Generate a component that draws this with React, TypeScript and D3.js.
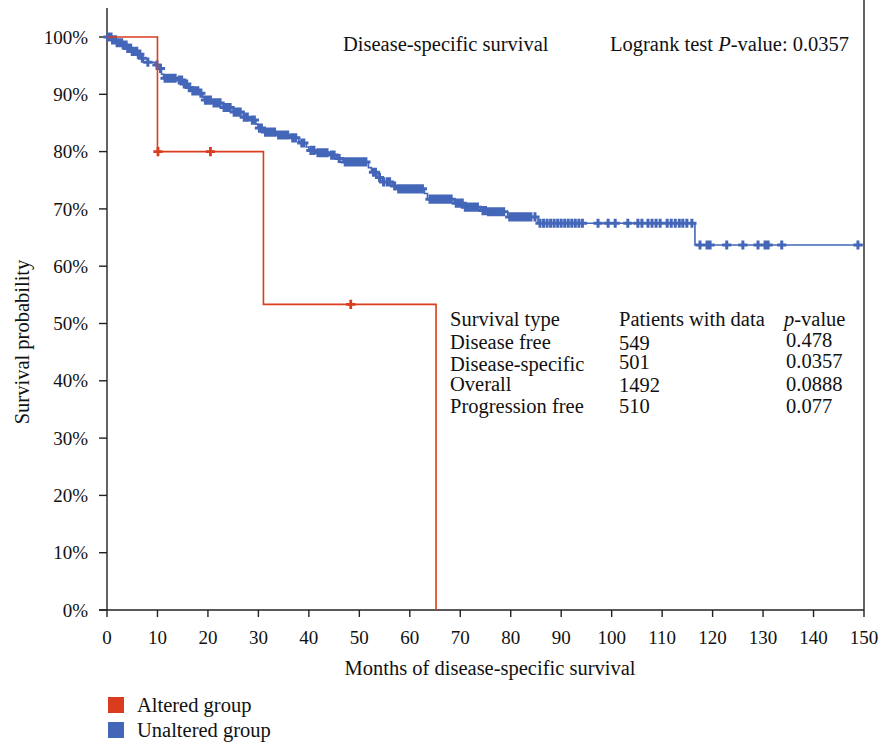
import React from "react";
import * as d3 from "d3";

// Kaplan–Meier step points: [month, survival probability after the step]
const alteredSteps: [number, number][] = [
  [0, 1.0],
  [10.0, 0.8],
  [31.0, 0.5333],
  [65.2, 0.0],
];
const alteredCensored: number[] = [10.1, 20.5, 48.3];

const unalteredSteps: [number, number][] = [
  [0, 1.0], [1.0, 0.995], [2.0, 0.99], [3.0, 0.986], [4.0, 0.98], [5.0, 0.975],
  [6.0, 0.97], [6.8, 0.963], [7.2, 0.956], [9.5, 0.951], [10.3, 0.945], [10.8, 0.935],
  [11.2, 0.928], [14.0, 0.925], [15.0, 0.918], [16.0, 0.912], [16.6, 0.906], [18.2, 0.902],
  [19.0, 0.895], [19.3, 0.89], [21.0, 0.885], [23.0, 0.877], [25.0, 0.869], [27.0, 0.86],
  [28.4, 0.855], [29.5, 0.848], [29.9, 0.841], [31.0, 0.834], [33.8, 0.829], [36.4, 0.824],
  [38.0, 0.818], [38.4, 0.815], [39.5, 0.808], [40.0, 0.802], [41.5, 0.798], [44.0, 0.794],
  [45.5, 0.788], [46.8, 0.782], [51.8, 0.772], [52.4, 0.764], [53.5, 0.755], [54.5, 0.747],
  [56.5, 0.74], [57.5, 0.735], [62.9, 0.727], [63.5, 0.717], [68.8, 0.71], [70.6, 0.703],
  [74.0, 0.697], [75.2, 0.695], [79.4, 0.686], [85.4, 0.675], [116.5, 0.637], [150, 0.637],
];
const unalteredCensored: number[] = [
  0.2, 0.5, 0.8, 1.1, 1.4, 1.7, 2.0, 2.3, 2.6, 2.9, 3.2, 3.5, 3.8, 4.1, 4.4, 4.7, 5.0, 5.3,
  5.6, 5.9, 6.2, 6.5, 7.0, 8.1, 9.9, 10.6, 11.5, 12.0, 12.5, 13.0, 13.5, 14.3, 14.8, 15.3,
  15.8, 16.3, 17.0, 17.5, 18.0, 18.6, 19.5, 20.0, 20.5, 21.2, 21.8, 22.4, 23.2, 23.8, 24.4,
  25.2, 25.8, 26.4, 27.2, 27.8, 28.8, 29.2, 30.2, 30.6, 31.4, 32.0, 32.6, 33.2, 34.0, 34.6,
  35.2, 35.8, 36.8, 37.4, 38.6, 39.0, 40.4, 41.0, 41.8, 42.4, 43.0, 43.6, 44.5, 45.0, 46.0,
  47.2, 47.8, 48.4, 49.0, 49.6, 50.2, 50.8, 51.3, 52.8, 53.2, 54.0, 54.8, 55.5, 56.0, 57.0,
  57.8, 58.4, 59.0, 59.6, 60.2, 60.8, 61.4, 62.0, 62.5, 64.0, 64.6, 65.2, 65.8, 66.4, 67.0,
  67.6, 68.2, 69.2, 69.8, 70.4, 71.0, 71.6, 72.2, 72.8, 73.4, 74.5, 75.0, 75.6, 76.2, 76.8,
  77.4, 78.0, 78.6, 79.8, 80.4, 81.0, 81.6, 82.2, 82.8, 83.4, 84.0, 84.8, 85.8, 86.5, 87.2,
  87.9, 88.6, 89.3, 90.0, 90.7, 91.4, 92.1, 92.8, 93.5, 94.2, 97.3, 99.3, 100.7, 103.2,
  105.2, 106.0, 107.2, 108.0, 108.8, 109.6, 111.0, 111.8, 112.6, 113.4, 114.1, 114.9, 115.9,
  117.5, 118.9, 119.5, 122.8, 126.0, 129.0, 130.4, 131.0, 133.7, 148.8,
];

const xTicks: number[] = d3.range(0, 151, 10);
const yTicks: number[] = d3.range(0, 1.0001, 0.1);

const tableHeader: string[] = ["Survival type", "Patients with data", "p-value"];
const survivalTypes: string[] = ["Disease free", "Disease-specific", "Overall", "Progression free"];
const patientCounts: string[] = ["549", "501", "1492", "510"];
const pValues: string[] = ["0.478", "0.0357", "0.0888", "0.077"];

const legendLabels: string[] = ["Altered group", "Unaltered group"];

const RED = "#d93c1e";
const BLUE = "#4466b8";
const INK = "#222";
const FONT = "'Liberation Serif', 'DejaVu Serif', serif";

const W = 882;
const H = 744;

function survivalAt(steps: [number, number][], t: number): number {
  let s = steps[0][1];
  for (const [time, v] of steps) {
    if (time <= t) s = v;
    else break;
  }
  return s;
}

export default function App() {
  const x = d3.scaleLinear().domain([0, 150]).range([107, 864]);
  const y = d3.scaleLinear().domain([0, 1]).range([610, 37]);
  const line = d3
    .line<[number, number]>()
    .x((d) => x(d[0]))
    .y((d) => y(d[1]))
    .curve(d3.curveStepAfter);

  const cross = (cx: number, cy: number, r: number) =>
    `M${cx - r},${cy}H${cx + r}M${cx},${cy - r}V${cy + r}`;

  // table row baselines (px)
  const col1Base = [349, 371, 391, 413];
  const col2Base = [350, 369, 392, 413];
  const col3Base = [347, 368, 391, 413];

  return (
    <svg
      width={W}
      height={H}
      style={{ position: "absolute", left: 0, top: 0, background: "#fff" }}
      fontFamily={FONT}
    >
      <rect x={0} y={0} width={W} height={H} fill="#fff" />

      {/* frame: left axis and right border */}
      <line x1={x(0)} x2={x(0)} y1={8} y2={y(0)} stroke={INK} strokeWidth={1.4} />
      <line x1={x(150)} x2={x(150)} y1={0} y2={y(0)} stroke={INK} strokeWidth={1.4} />
      <line x1={x(0) - 8} x2={x(150)} y1={y(0)} y2={y(0)} stroke={INK} strokeWidth={1.4} />

      {/* y ticks */}
      {yTicks.map((t) => (
        <g key={"y" + t}>
          <line x1={x(0) - 8} x2={x(0)} y1={y(t)} y2={y(t)} stroke={INK} strokeWidth={1.4} />
          <text x={88} y={y(t)} dy="0.35em" textAnchor="end" fontSize={19} fill="#111">
            {d3.format(".0%")(t)}
          </text>
        </g>
      ))}

      {/* x ticks */}
      {xTicks.map((t) => (
        <g key={"x" + t}>
          <line x1={x(t)} x2={x(t)} y1={y(0)} y2={y(0) + 7} stroke={INK} strokeWidth={1.4} />
          <text x={x(t)} y={644} textAnchor="middle" fontSize={19} fill="#111">
            {t}
          </text>
        </g>
      ))}

      {/* axis titles */}
      <text x={490} y={675} textAnchor="middle" fontSize={20.5} fill="#111">
        Months of disease-specific survival
      </text>
      <text transform={`translate(29,342) rotate(-90)`} textAnchor="middle" fontSize={20.5} fill="#111">
        Survival probability
      </text>

      {/* unaltered group curve */}
      <path d={line(unalteredSteps) || ""} fill="none" stroke={BLUE} strokeWidth={1.6} />
      <path
        d={unalteredCensored
          .map((t) => cross(x(t), y(survivalAt(unalteredSteps, t)), 4.6))
          .join("")}
        fill="none"
        stroke={BLUE}
        strokeWidth={3}
      />

      {/* altered group curve */}
      <path d={line(alteredSteps) || ""} fill="none" stroke={RED} strokeWidth={1.6} />
      <path
        d={alteredCensored
          .map((t) => cross(x(t), y(survivalAt(alteredSteps, t)), 4.6))
          .join("")}
        fill="none"
        stroke={RED}
        strokeWidth={2.8}
      />

      {/* header texts */}
      <text x={343} y={51} fontSize={20.5} fill="#111">
        Disease-specific survival
      </text>
      <text x={610} y={51} fontSize={20.5} fill="#111">
        Logrank test <tspan fontStyle="italic">P</tspan>-value: 0.0357
      </text>

      {/* summary table */}
      <g fontSize={20.5} fill="#111">
        <text x={450} y={326}>{tableHeader[0]}</text>
        <text x={619} y={326}>{tableHeader[1]}</text>
        <text x={784} y={326}>
          <tspan fontStyle="italic">p</tspan>
          {tableHeader[2].slice(1)}
        </text>
        {survivalTypes.map((s, i) => (
          <text key={"s" + i} x={450} y={col1Base[i]}>{s}</text>
        ))}
        {patientCounts.map((s, i) => (
          <text key={"n" + i} x={619} y={col2Base[i]}>{s}</text>
        ))}
        {pValues.map((s, i) => (
          <text key={"p" + i} x={786} y={col3Base[i]}>{s}</text>
        ))}
      </g>

      {/* legend */}
      {legendLabels.map((lab, i) => (
        <g key={lab}>
          <rect x={108} y={697 + i * 25} width={16} height={16} fill={i === 0 ? RED : BLUE} />
          <text x={137} y={712 + i * 25} fontSize={20.5} fill="#111">
            {lab}
          </text>
        </g>
      ))}
    </svg>
  );
}
